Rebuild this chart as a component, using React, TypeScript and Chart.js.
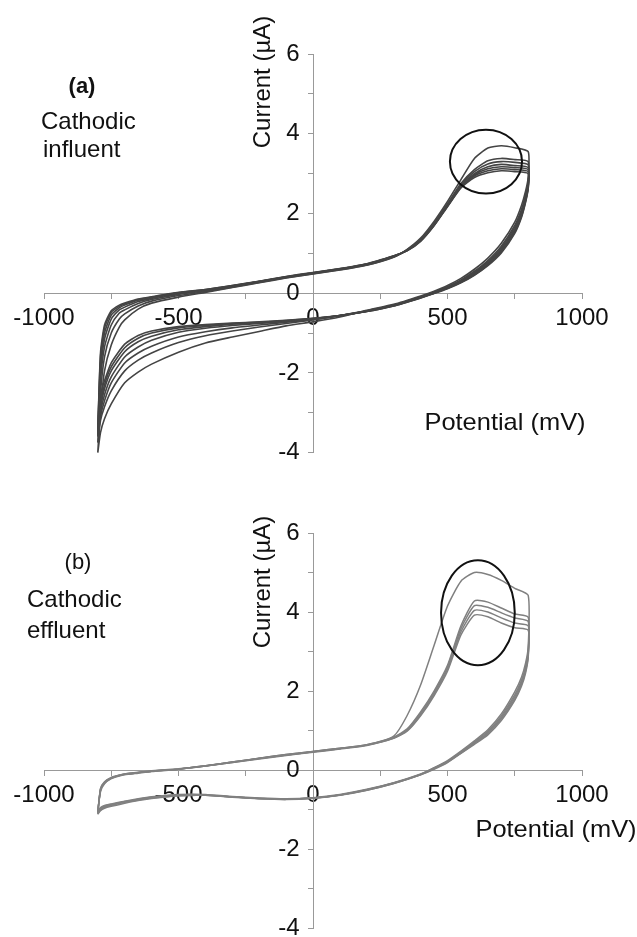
import React, { useEffect, useRef } from 'react';
import { Chart, registerables } from 'chart.js';

Chart.register(...registerables);

// Potential of each scan point (mV): forward sweep -800 -> 800, then reverse sweep 800 -> -800
const SCAN_MV = [
  -800, -790, -775, -750, -720, -700, -650, -600, -500, -400, -300, -200, -100, 0, 100, 200, 300, 350, 400, 450, 500, 550, 600, 650, 700, 750, 800,
  800, 790, 775, 750, 700, 650, 600, 550, 500, 450, 400, 300, 200, 100, 0, -100, -200, -300, -400, -500, -600, -650, -700, -750, -775, -790, -800,
];

const X_TICK_LABELS = [-1000, -500, 0, 500, 1000];
const Y_TICK_LABELS = [-4, -2, 0, 2, 4, 6];

// (a) Cathodic influent, current (µA) per cycle
const A1 = [
  -4.0, -2.9, -1.95, -1.3, -0.85, -0.67, -0.4, -0.25, -0.1, 0.02, 0.14, 0.26, 0.38, 0.48, 0.58, 0.7, 0.9, 1.1, 1.38, 1.8, 2.3, 2.85, 3.38, 3.64, 3.7, 3.65, 3.55,
  2.9, 2.55, 2.2, 1.78, 1.25, 0.88, 0.6, 0.37, 0.19, 0.05, -0.07, -0.28, -0.43, -0.6, -0.72, -0.82, -0.96, -1.1, -1.25, -1.48, -1.78, -1.98, -2.25, -2.78, -3.15, -3.5, -4.0,
];
const A2 = [
  -3.75, -2.5, -1.6, -1.0, -0.65, -0.52, -0.32, -0.2, -0.06, 0.04, 0.15, 0.27, 0.39, 0.49, 0.59, 0.71, 0.91, 1.09, 1.35, 1.75, 2.24, 2.75, 3.1, 3.32, 3.38, 3.35, 3.3,
  2.8, 2.45, 2.1, 1.7, 1.18, 0.82, 0.55, 0.33, 0.16, 0.03, -0.09, -0.3, -0.44, -0.56, -0.67, -0.76, -0.85, -0.95, -1.07, -1.24, -1.5, -1.68, -1.95, -2.45, -2.85, -3.2, -3.75,
];
const A3 = [
  -3.6, -2.2, -1.35, -0.8, -0.5, -0.42, -0.26, -0.16, -0.03, 0.06, 0.17, 0.28, 0.4, 0.5, 0.6, 0.72, 0.92, 1.08, 1.34, 1.73, 2.22, 2.72, 3.05, 3.24, 3.3, 3.28, 3.22,
  2.75, 2.4, 2.05, 1.65, 1.14, 0.79, 0.52, 0.31, 0.15, 0.02, -0.1, -0.3, -0.45, -0.57, -0.66, -0.73, -0.8, -0.87, -0.97, -1.1, -1.33, -1.5, -1.75, -2.25, -2.7, -3.1, -3.6,
];
const A4 = [
  -3.55, -2.0, -1.15, -0.65, -0.42, -0.35, -0.21, -0.13, -0.01, 0.07, 0.18, 0.29, 0.4, 0.5, 0.6, 0.72, 0.92, 1.08, 1.33, 1.72, 2.2, 2.7, 3.0, 3.17, 3.23, 3.2, 3.15,
  2.7, 2.35, 2.0, 1.6, 1.1, 0.76, 0.5, 0.3, 0.14, 0.01, -0.11, -0.31, -0.45, -0.56, -0.65, -0.71, -0.76, -0.81, -0.88, -0.98, -1.18, -1.35, -1.6, -2.1, -2.55, -3.0, -3.55,
];
const A5 = [
  -3.5, -1.8, -1.0, -0.55, -0.37, -0.3, -0.18, -0.11, 0.0, 0.08, 0.18, 0.29, 0.41, 0.51, 0.61, 0.73, 0.93, 1.07, 1.32, 1.71, 2.19, 2.68, 2.97, 3.12, 3.17, 3.15, 3.1,
  2.68, 2.32, 1.96, 1.56, 1.07, 0.73, 0.48, 0.28, 0.13, 0.0, -0.11, -0.31, -0.45, -0.56, -0.64, -0.7, -0.74, -0.78, -0.84, -0.92, -1.08, -1.22, -1.47, -1.95, -2.4, -2.9, -3.5,
];
const A6 = [
  -3.45, -1.6, -0.88, -0.48, -0.33, -0.27, -0.16, -0.1, 0.01, 0.09, 0.19, 0.3, 0.41, 0.51, 0.61, 0.73, 0.93, 1.07, 1.31, 1.7, 2.18, 2.66, 2.94, 3.07, 3.12, 3.1, 3.05,
  2.65, 2.3, 1.93, 1.53, 1.04, 0.71, 0.46, 0.27, 0.12, 0.0, -0.12, -0.32, -0.46, -0.56, -0.64, -0.69, -0.73, -0.76, -0.81, -0.87, -1.0, -1.13, -1.37, -1.85, -2.3, -2.8, -3.45,
];
const A7 = [
  -3.45, -1.5, -0.8, -0.44, -0.3, -0.25, -0.15, -0.09, 0.02, 0.09, 0.19, 0.3, 0.42, 0.52, 0.62, 0.74, 0.94, 1.06, 1.3, 1.69, 2.17, 2.64, 2.9, 3.02, 3.07, 3.05, 3.0,
  2.62, 2.27, 1.9, 1.5, 1.01, 0.69, 0.45, 0.26, 0.11, -0.01, -0.12, -0.32, -0.46, -0.56, -0.63, -0.68, -0.72, -0.75, -0.79, -0.84, -0.95, -1.06, -1.28, -1.75, -2.2, -2.55, -3.45,
];

// (b) Cathodic effluent, current (µA) per cycle
const B1 = [
  -1.03, -0.55, -0.35, -0.22, -0.15, -0.12, -0.08, -0.04, 0.02, 0.11, 0.2, 0.3, 0.39, 0.47, 0.55, 0.64, 0.86, 1.38, 2.15, 3.15, 4.15, 4.78, 5.0, 4.95, 4.8, 4.6, 4.42,
  3.1, 2.7, 2.35, 1.98, 1.42, 1.02, 0.74, 0.48, 0.24, 0.06, -0.1, -0.32, -0.49, -0.62, -0.7, -0.73, -0.71, -0.67, -0.62, -0.62, -0.68, -0.73, -0.79, -0.86, -0.9, -0.95, -1.03,
];
const B2 = [
  -1.05, -0.52, -0.33, -0.21, -0.14, -0.11, -0.07, -0.03, 0.02, 0.11, 0.2, 0.3, 0.39, 0.47, 0.55, 0.64, 0.83, 1.04, 1.47, 2.0, 2.65, 3.65, 4.28, 4.25, 4.1, 3.95, 3.87,
  3.0, 2.6, 2.27, 1.9, 1.37, 0.98, 0.71, 0.46, 0.22, 0.05, -0.11, -0.33, -0.5, -0.63, -0.71, -0.74, -0.72, -0.68, -0.63, -0.63, -0.69, -0.74, -0.8, -0.87, -0.91, -0.97, -1.05,
];
const B3 = [
  -1.08, -0.5, -0.32, -0.2, -0.14, -0.11, -0.07, -0.03, 0.02, 0.1, 0.2, 0.29, 0.38, 0.46, 0.54, 0.63, 0.82, 1.02, 1.44, 1.96, 2.6, 3.58, 4.16, 4.12, 3.98, 3.85, 3.76,
  2.95, 2.55, 2.22, 1.85, 1.33, 0.95, 0.69, 0.44, 0.21, 0.04, -0.11, -0.33, -0.5, -0.63, -0.71, -0.74, -0.72, -0.68, -0.63, -0.64, -0.7, -0.75, -0.81, -0.88, -0.93, -0.99, -1.08,
];
const B4 = [
  -1.1, -0.48, -0.31, -0.2, -0.13, -0.1, -0.06, -0.03, 0.02, 0.1, 0.19, 0.29, 0.38, 0.46, 0.54, 0.63, 0.81, 1.0, 1.4, 1.92, 2.55, 3.5, 4.04, 4.0, 3.85, 3.72, 3.65,
  2.9, 2.5, 2.17, 1.8, 1.29, 0.92, 0.67, 0.43, 0.2, 0.03, -0.12, -0.34, -0.51, -0.63, -0.71, -0.74, -0.72, -0.68, -0.64, -0.65, -0.71, -0.76, -0.82, -0.9, -0.95, -1.01, -1.1,
];
const B5 = [
  -1.12, -0.47, -0.3, -0.19, -0.13, -0.1, -0.06, -0.02, 0.03, 0.1, 0.19, 0.28, 0.37, 0.45, 0.53, 0.62, 0.8, 0.98, 1.37, 1.88, 2.5, 3.42, 3.92, 3.88, 3.72, 3.6, 3.54,
  2.85, 2.45, 2.12, 1.76, 1.25, 0.89, 0.65, 0.42, 0.19, 0.02, -0.12, -0.34, -0.51, -0.64, -0.72, -0.75, -0.73, -0.69, -0.64, -0.65, -0.72, -0.77, -0.84, -0.92, -0.97, -1.03, -1.12,
];

const CYCLES_A = [A1, A2, A3, A4, A5, A6, A7];
const CYCLES_B = [B1, B2, B3, B4, B5];

// Highlight ellipses: [centre mV, centre µA, radius mV, radius µA]
const ELLIPSE_A = [643, 3.3, 134, 0.8];
const ELLIPSE_B = [613, 3.98, 137, 1.33];

const FONT = '"Liberation Sans", Arial, Helvetica, sans-serif';

type TextItem = { text: string; x: number; y: number; align: CanvasTextAlign; font: string; rot?: number; sx?: number };

const annotPlugin = {
  id: 'annot',
  afterDatasetsDraw(chart: any, _args: any, opts: any) {
    const { ctx } = chart;
    const xs = chart.scales.x;
    const ys = chart.scales.y;
    const e = opts.ellipse as number[];
    ctx.save();
    const cx = xs.getPixelForValue(e[0]);
    const cy = ys.getPixelForValue(e[1]);
    const rx = Math.abs(xs.getPixelForValue(e[0] + e[2]) - cx);
    const ry = Math.abs(ys.getPixelForValue(e[1] + e[3]) - cy);
    ctx.beginPath();
    ctx.ellipse(cx, cy, rx, ry, 0, 0, Math.PI * 2);
    ctx.strokeStyle = '#111';
    ctx.lineWidth = 2;
    ctx.stroke();
    for (const t of opts.texts as TextItem[]) {
      ctx.save();
      ctx.font = t.font;
      ctx.fillStyle = '#111';
      ctx.textAlign = t.align;
      ctx.textBaseline = 'middle';
      ctx.translate(t.x, t.y);
      if (t.rot) ctx.rotate(t.rot);
      ctx.scale(t.sx || 1, 1);
      ctx.fillText(t.text, 0, 0);
      ctx.restore();
    }
    ctx.restore();
  },
};

function makeConfig(cycles: number[][], color: string, width: number, ellipse: number[], texts: TextItem[], padding: any) {
  const tickFont = { family: FONT, size: 24 };
  return {
    type: 'scatter',
    data: {
      datasets: cycles.map((c, k) => ({
        label: 'Cycle ' + (k + 1),
        data: SCAN_MV.map((mv, i) => ({ x: mv, y: c[i] })),
        showLine: true,
        borderColor: color,
        borderWidth: width,
        pointRadius: 0,
        tension: 0.2,
        fill: false,
        clip: false,
      })),
    },
    options: {
      responsive: false,
      animation: false,
      devicePixelRatio: 1,
      layout: { padding },
      plugins: {
        legend: { display: false },
        tooltip: { enabled: false },
        annot: { ellipse, texts },
      },
      scales: {
        x: {
          type: 'linear',
          min: -1000,
          max: 1000,
          position: { y: 0 },
          ticks: {
            stepSize: 250,
            autoSkip: false,
            maxRotation: 0,
            padding: 6,
            color: '#111',
            font: tickFont,
            callback: (v: number) => (X_TICK_LABELS.includes(v) ? String(v) : ''),
          },
          grid: { drawOnChartArea: false, drawTicks: true, tickLength: 5, color: '#999' },
          border: { display: true, color: '#999', width: 1 },
        },
        y: {
          type: 'linear',
          min: -4,
          max: 6,
          position: { x: 0 },
          ticks: {
            stepSize: 1,
            autoSkip: false,
            color: '#111',
            font: tickFont,
            callback: (v: number) => (Y_TICK_LABELS.includes(v) ? String(v) + '  ' : ''),
          },
          grid: { drawOnChartArea: false, drawTicks: true, tickLength: 5, color: '#999' },
          border: { display: true, color: '#999', width: 1 },
        },
      },
    },
    plugins: [annotPlugin],
  } as any;
}

const TEXTS_A: TextItem[] = [
  { text: '(a)', x: 82, y: 87, align: 'center', font: `bold 22px ${FONT}` },
  { text: 'Cathodic', x: 41, y: 122, align: 'left', font: `24px ${FONT}` },
  { text: 'influent', x: 43, y: 150, align: 'left', font: `24px ${FONT}` },
  { text: 'Current (\u00b5A)', x: 263, y: 82, align: 'center', font: `24px ${FONT}`, rot: -Math.PI / 2 },
  { text: 'Potential (mV)', x: 505, y: 423, align: 'center', font: `24px ${FONT}`, sx: 1.06 },
];

const TEXTS_B: TextItem[] = [
  { text: '(b)', x: 78, y: 93, align: 'center', font: `22px ${FONT}` },
  { text: 'Cathodic', x: 27, y: 130, align: 'left', font: `24px ${FONT}` },
  { text: 'effluent', x: 27, y: 161, align: 'left', font: `24px ${FONT}` },
  { text: 'Current (\u00b5A)', x: 263, y: 112, align: 'center', font: `24px ${FONT}`, rot: -Math.PI / 2 },
  { text: 'Potential (mV)', x: 556, y: 360, align: 'center', font: `24px ${FONT}`, sx: 1.06 },
];

export default function App() {
  const refA = useRef<HTMLCanvasElement>(null);
  const refB = useRef<HTMLCanvasElement>(null);

  useEffect(() => {
    const ca = new Chart(refA.current as HTMLCanvasElement, makeConfig(CYCLES_A, '#444444', 1.6, ELLIPSE_A, TEXTS_A, { left: 44, right: 55, top: 54, bottom: 17 }));
    const cb = new Chart(refB.current as HTMLCanvasElement, makeConfig(CYCLES_B, '#808080', 1.5, ELLIPSE_B, TEXTS_B, { left: 44, right: 55, top: 63, bottom: 22 }));
    return () => {
      ca.destroy();
      cb.destroy();
    };
  }, []);

  return (
    <div style={{ position: 'absolute', left: 0, top: 0, width: 637, height: 937, overflow: 'hidden', background: '#fff' }}>
      <canvas ref={refA} width={637} height={470} style={{ position: 'absolute', left: 0, top: 0, width: 637, height: 470 }} />
      <canvas ref={refB} width={637} height={480} style={{ position: 'absolute', left: 0, top: 470, width: 637, height: 480 }} />
    </div>
  );
}
